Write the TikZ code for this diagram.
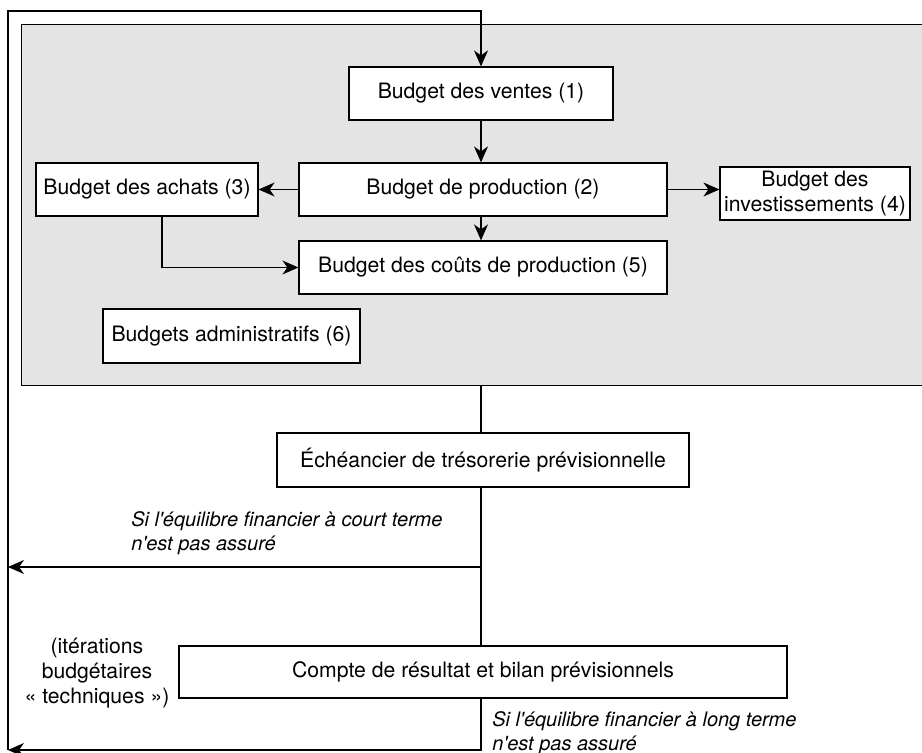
\documentclass[tikz,border=0pt]{standalone}
\usepackage{fontspec}
\setmainfont{TeX Gyre Heros}
\usetikzlibrary{arrows.meta}
\definecolor{fond}{gray}{0.894}
\tikzstyle{budget} = [
    rectangle,
    minimum height=26.5pt,
    inner sep=1pt,
    align=center,
    fill=white,
    draw=black,
    line width=0.6pt
]
\tikzstyle{remarque} = [
    font=\itshape,
    align=left,
    inner sep=0pt,
    anchor=west
]
\tikzstyle{line} = [line width=0.6pt]
\tikzstyle{arrow} = [line width=0.6pt,->,>={Stealth[length=8pt,width=7pt,inset=2.5pt]}]

\begin{document}
\begin{tikzpicture}[x=0.5pt, y=-0.5pt, font=\fontsize{10.6}{12.5}\selectfont]

\useasboundingbox (0,0) rectangle (922,753);

\node (zone) [rectangle, draw=black, fill=fond, line width=0.6pt,
    minimum width=456pt, minimum height=180.5pt, anchor=north west]
    at (21,24) {};

\coordinate (axe) at (481,0);
\coordinate (coin) at (8,11);
\coordinate (retour1) at (8,567);
\coordinate (retour2) at (8,750);

\node (ventes) [budget, minimum width=132pt] at (481,93.5)
{Budget des ventes (1)};

\node (production) [budget, minimum width=184pt] at (483,189.5)
{Budget de production (2)};

\node (achats) [budget, minimum width=111pt] at (147,189.5)
{Budget des achats (3)};

\node (investissements) [budget, minimum width=95pt] at (815,193.5)
{Budget des\\investissements (4)};

\node (couts) [budget, minimum width=184pt] at (483,267.5)
{Budget des coûts de production (5)};

\node (administratifs) [budget, minimum width=128.5pt, minimum height=27pt]
at (231.5,336) {Budgets administratifs (6)};

\node (tresorerie) [budget, minimum width=206pt, minimum height=27pt]
at (483,460) {Échéancier de trésorerie prévisionnelle};

\node (resultat) [budget, minimum width=304pt, minimum height=26pt]
at (483,672) {Compte de résultat et bilan prévisionnels};

\node (court) [remarque] at (131,533)
{Si l\textquotesingle équilibre financier à court terme\\n\textquotesingle est pas assuré};

\node (long) [remarque] at (492,733)
{Si l\textquotesingle équilibre financier à long terme\\n\textquotesingle est pas assuré};

\node (iterations) [align=center, inner sep=0pt] at (97,673)
{(itérations\\budgétaires\\« techniques »)};

\draw [arrow] (retour2) -- (coin) -| (axe |- ventes.north);
\draw [arrow] (axe |- ventes.south) -- (axe |- production.north);
\draw [arrow] (production.west) -- (achats.east);
\draw [arrow] (production.east) -- (production.east -| investissements.west);
\draw [arrow] (axe |- production.south) -- (axe |- couts.north);
\draw [arrow] ([xshift=7.5pt]achats.south) |- (couts.west);
\draw [line] (axe |- zone.south) -- (axe |- tresorerie.north);
\draw [line] (axe |- tresorerie.south) -- (axe |- resultat.north);
\draw [arrow] (axe |- retour1) -- (retour1);
\draw [arrow] (axe |- resultat.south) -- (axe |- retour2) -- (retour2);

\end{tikzpicture}
\end{document}
